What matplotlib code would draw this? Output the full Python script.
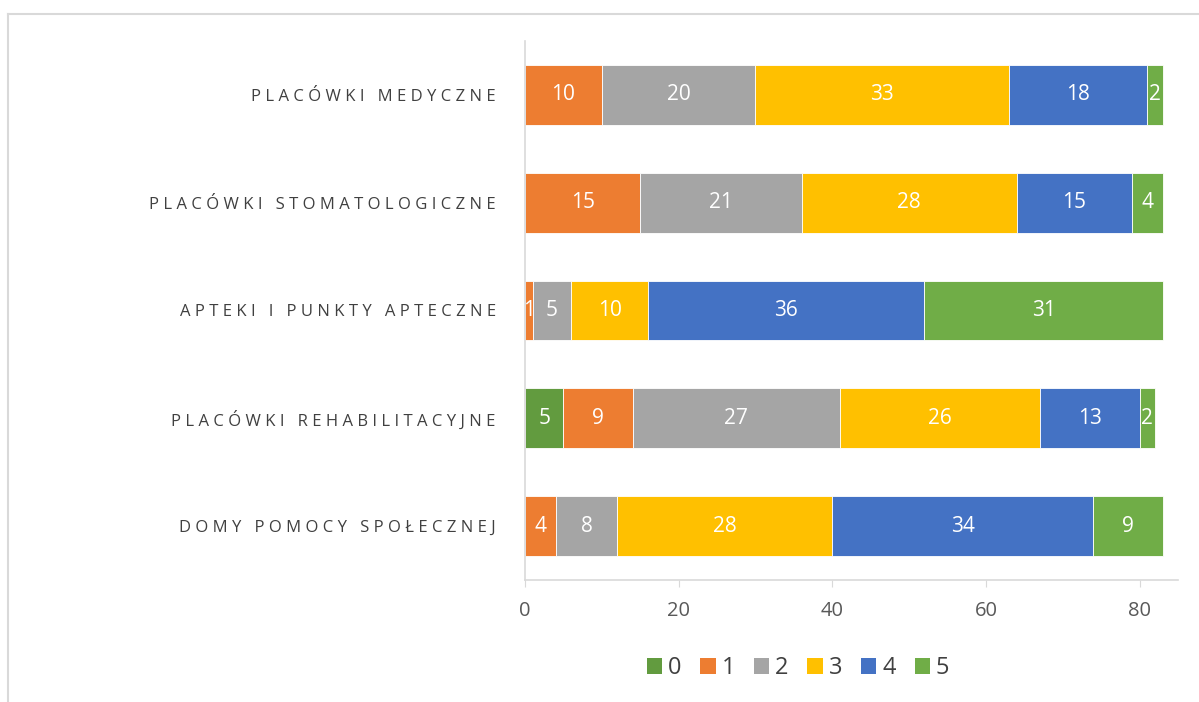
import matplotlib
matplotlib.use("Agg")
import matplotlib.pyplot as plt
from matplotlib.lines import Line2D
from matplotlib.patches import Patch
import numpy as np

categories = ["PLACÓWKI MEDYCZNE", "PLACÓWKI STOMATOLOGICZNE", "APTEKI I PUNKTY APTECZNE",
              "PLACÓWKI REHABILITACYJNE", "DOMY POMOCY SPOŁECZNEJ"]
series_names = ["0", "1", "2", "3", "4", "5"]
s0 = [0, 0, 0, 5, 0]
s1 = [10, 15, 1, 9, 4]
s2 = [20, 21, 5, 27, 8]
s3 = [33, 28, 10, 26, 28]
s4 = [18, 15, 36, 13, 34]
s5 = [2, 4, 31, 2, 9]
series = [s0, s1, s2, s3, s4, s5]
colors = ["#629B3F", "#ED7D31", "#A5A5A5", "#FFC000", "#4472C4", "#70AD47"]
xticks = [0, 20, 40, 60, 80]

plt.rcParams['font.family'] = ['Open Sans', 'DejaVu Sans']

fig = plt.figure(figsize=(11.99, 7.02), dpi=100)
ax = fig.add_axes([525/1199, 1-580/702, (1178-525)/1199, (580-41)/702])

y = np.arange(len(categories))
left = np.zeros(len(categories))
for name, vals, c in zip(series_names, series, colors):
    vals = np.array(vals, dtype=float)
    bars = ax.barh(y, vals, left=left, height=0.556, color=c, edgecolor="white",
                   linewidth=0.6, label=name)
    for b, v in zip(bars, vals):
        if v > 0:
            ax.text(b.get_x() + b.get_width()/2, b.get_y() + b.get_height()/2, f"{int(v)}",
                    ha="center", va="center", color="white", fontsize=15)
    left += vals

ax.set_xlim(0, 85)
ax.set_ylim(len(categories) - 0.5, -0.5)
ax.set_xticks(xticks)
ax.set_xticklabels([str(t) for t in xticks], fontsize=14.5, color="#595959")
ax.tick_params(axis="x", length=5, color="#D9D9D9", pad=10)
ax.set_yticks(y)
spaced = ["\u2009\u200a".join(list(c)) for c in categories]
ax.set_yticklabels(spaced, fontsize=12, color="#404040")
ax.tick_params(axis="y", length=0, pad=21)
for s in ["top", "right"]:
    ax.spines[s].set_visible(False)
for s in ["left", "bottom"]:
    ax.spines[s].set_color("#D9D9D9")
    ax.spines[s].set_linewidth(1.2)

handles = [Patch(facecolor=c, label=n) for n, c in zip(series_names, colors)]
fig.legend(handles=handles, loc="center", bbox_to_anchor=(798/1199, 1-668/702), ncol=6,
           frameon=False, fontsize=17, handlelength=0.65, handleheight=0.65,
           handletextpad=0.25, columnspacing=0.8, labelcolor="#404040")

fig.add_artist(Line2D([8/1199, 1], [1-14/702, 1-14/702], color="#D9D9D9", lw=1.5))
fig.add_artist(Line2D([8/1199, 8/1199], [0, 1-14/702], color="#D9D9D9", lw=1.5))

fig.savefig("out.png", dpi=100)
